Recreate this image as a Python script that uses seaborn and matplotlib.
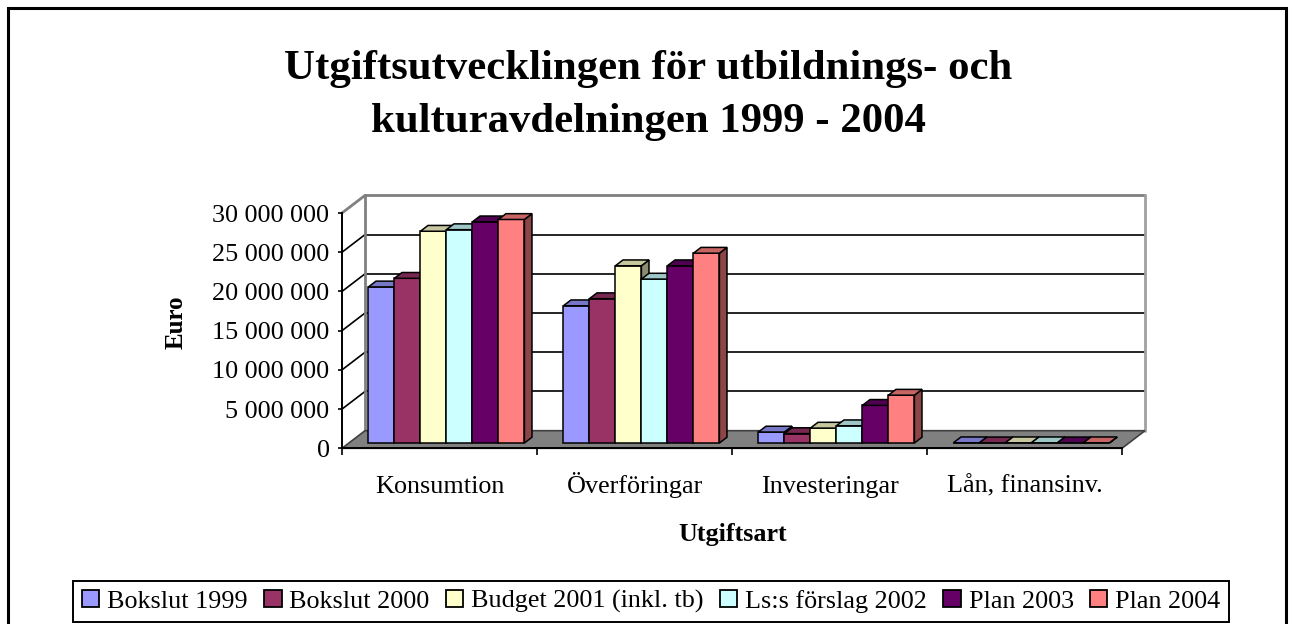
import numpy as np
import pandas as pd
import matplotlib
matplotlib.use("Agg")
import matplotlib.pyplot as plt
import matplotlib.colors as mcolors
from matplotlib.patches import Polygon, Patch, Rectangle
import seaborn as sns

# Data (Euro)
categories = ["Konsumtion", "Överföringar", "Investeringar", "Lån, finansinv."]
series = ["Bokslut 1999", "Bokslut 2000", "Budget 2001 (inkl. tb)",
          "Ls:s förslag 2002", "Plan 2003", "Plan 2004"]
bokslut_1999 = [19_900_000, 17_500_000, 1_400_000, 30_000]
bokslut_2000 = [21_000_000, 18_400_000, 1_200_000, 20_000]
budget_2001 = [27_000_000, 22_600_000, 1_900_000, 30_000]
ls_forslag_2002 = [27_200_000, 20_900_000, 2_200_000, 30_000]
plan_2003 = [28_200_000, 22_600_000, 4_800_000, 20_000]
plan_2004 = [28_500_000, 24_200_000, 6_100_000, 30_000]
colors = ["#9999FF", "#993366", "#FFFFCC", "#CCFFFF", "#660066", "#FF8080"]
yticks = [0, 5_000_000, 10_000_000, 15_000_000, 20_000_000, 25_000_000, 30_000_000]

all_values = [bokslut_1999, bokslut_2000, budget_2001, ls_forslag_2002, plan_2003, plan_2004]
rows = []
for s, vals in zip(series, all_values):
    for c, v in zip(categories, vals):
        rows.append({"Utgiftsart": c, "Serie": s, "Euro": v})
df = pd.DataFrame(rows)

sns.set_style("white")
plt.rcParams["font.family"] = ["Liberation Serif", "DejaVu Serif"]
plt.rcParams["text.color"] = "black"
plt.rcParams["xtick.color"] = "black"
plt.rcParams["ytick.color"] = "black"
plt.rcParams["axes.labelcolor"] = "black"

W, H = 1292, 624
fig = plt.figure(figsize=(W / 100, H / 100), dpi=100)
# front plane of the fake 3D box
x0, x1, yb, yt = 342, 1122, 448.3, 213
ax = fig.add_axes([x0 / W, 1 - yb / H, (x1 - x0) / W, (yb - yt) / H])

sns.barplot(data=df, x="Utgiftsart", y="Euro", hue="Serie", order=categories,
            hue_order=series, palette=colors, width=0.8, gap=0, saturation=1,
            edgecolor="black", linewidth=1.1, legend=False, ax=ax)
ax.set_xlim(-0.5, 3.5)
ax.set_ylim(0, 30_000_000)

# depth vector in data units (pixels -> data)
px_x = 4 / (x1 - x0)
px_y = 30_000_000 / (yb - yt)
Dx, Dy = 23 * px_x, 17.6 * px_y
f0, fd = 0.3, 0.33  # bar start depth, bar depth

bars = list(ax.patches)
for p in bars:
    bx, bw, bh = p.get_x(), p.get_width(), p.get_height()
    fc = np.array(mcolors.to_rgb(p.get_facecolor()))
    ox, oy = f0 * Dx, f0 * Dy
    dx, dy = fd * Dx, fd * Dy
    z = 3 + (bx + 1) * 0.5
    p.set_x(bx + ox)
    p.set_y(oy)
    p.set_zorder(z + 0.01)
    p.set_clip_on(False)
    xl, xr, yt_ = bx + ox, bx + ox + bw, oy + bh
    side = Polygon([(xr, oy), (xr + dx, oy + dy), (xr + dx, yt_ + dy), (xr, yt_)],
                   closed=True, facecolor=fc * 0.55, edgecolor="black", lw=1.1,
                   zorder=z, clip_on=False)
    top = Polygon([(xl, yt_), (xr, yt_), (xr + dx, yt_ + dy), (xl + dx, yt_ + dy)],
                  closed=True, facecolor=fc * 0.78, edgecolor="black", lw=1.1,
                  zorder=z + 0.02, clip_on=False)
    ax.add_patch(side)
    ax.add_patch(top)

# floor
floor = Polygon([(-0.5, 0), (3.5, 0), (3.5 + Dx, Dy), (-0.5 + Dx, Dy)], closed=True,
                facecolor="#808080", edgecolor="#404040", lw=1.2, zorder=1, clip_on=False)
ax.add_patch(floor)

# back wall and side wall grid
for v in yticks[1:]:
    col = "#808080" if v == yticks[-1] else "black"
    lw = 2 if v == yticks[-1] else 1.2
    ax.plot([-0.5 + Dx, 3.5 + Dx], [v + Dy, v + Dy], color=col, lw=lw, zorder=0.5, clip_on=False)
    ax.plot([-0.5, -0.5 + Dx], [v, v + Dy], color=col, lw=lw, zorder=0.5, clip_on=False)
ax.plot([-0.5 + Dx, -0.5 + Dx], [Dy, 30_000_000 + Dy], color="#808080", lw=2, zorder=0.5, clip_on=False)
ax.plot([3.5 + Dx, 3.5 + Dx], [Dy, 30_000_000 + Dy], color="#A0A0A0", lw=2, zorder=0.5, clip_on=False)

# axes styling
for s in ["top", "right"]:
    ax.spines[s].set_visible(False)
for s in ["left", "bottom"]:
    ax.spines[s].set_color("black")
    ax.spines[s].set_linewidth(1.4)
    ax.spines[s].set_zorder(2)
ax.set_facecolor("none")
ax.set_yticks(yticks)
ax.set_yticklabels([f"{v:,}".replace(",", " ") for v in yticks])
ax.set_xticks(range(len(categories)))
ax.set_xticklabels(categories, va="baseline")
ax.set_xticks(np.arange(-0.5, 4, 1), minor=True)
ax.tick_params(axis="y", length=3, width=1.2, color="black", pad=6, labelsize=18.8, left=True)
ax.tick_params(axis="x", which="major", length=0, pad=32, labelsize=18.8, bottom=True)
ax.tick_params(axis="x", which="minor", length=5, width=1.2, color="black", bottom=True)
ax.set_xlabel("")
ax.set_ylabel("")

# titles and labels
fig.text(648 / W, 1 - 69 / H, "Utgiftsutvecklingen för utbildnings- och",
         ha="center", va="center", fontsize=30.8, fontweight="bold")
fig.text(648 / W, 1 - 122 / H, "kulturavdelningen 1999 - 2004",
         ha="center", va="center", fontsize=30.8, fontweight="bold")
fig.text(733 / W, 1 - 534 / H, "Utgiftsart", ha="center", va="center",
         fontsize=18.8, fontweight="bold")
fig.text(176 / W, 1 - 322 / H, "Euro", ha="center", va="center", rotation=90,
         fontsize=18, fontweight="bold")

handles = [Patch(facecolor=c, edgecolor="black", lw=1.3) for c in colors]
leg = fig.legend(handles, series, loc="center", bbox_to_anchor=(651 / W, 1 - 601.5 / H),
                 ncol=6, frameon=True, fancybox=False, framealpha=1, edgecolor="black",
                 fontsize=18.8, handlelength=0.68, handleheight=0.62, handletextpad=0.3,
                 columnspacing=0.61, borderpad=0.35, borderaxespad=0)
leg.get_frame().set_linewidth(1.4)

# outer chart border
fig.patches.append(Rectangle((8 / W, -0.05), 1278 / W, 1.05 - 8 / H, transform=fig.transFigure,
                             fill=False, edgecolor="black", lw=2.2, zorder=10))

fig.savefig("out.png", dpi=100, facecolor="white")
